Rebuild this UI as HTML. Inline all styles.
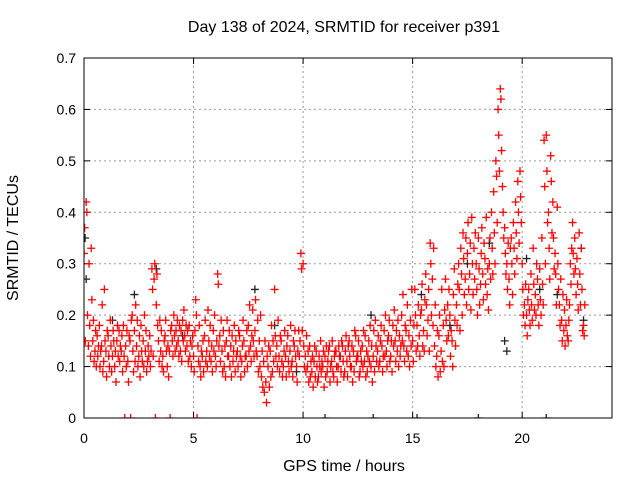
<!DOCTYPE html>
<html><head><meta charset="utf-8"><style>
body{margin:0;background:#fff}
svg text{font-family:"Liberation Sans",sans-serif;font-size:14px;fill:#000}
svg text.big{font-size:16px}
</style></head><body>
<svg id="chart" width="640" height="480" xmlns="http://www.w3.org/2000/svg">
<rect width="640" height="480" fill="#fff"/>
<text class="big" x="344" y="32" text-anchor="middle">Day 138 of 2024, SRMTID for receiver p391</text>
<text class="big" x="344" y="471" text-anchor="middle">GPS time / hours</text>
<text class="big" transform="translate(18,238) rotate(-90)" text-anchor="middle">SRMTID / TECUs</text>
<g id="grid"></g>
<g id="ticks"></g>
<defs><clipPath id="pc"><rect x="84" y="58" width="528" height="360"/></clipPath></defs>
<g id="marks" clip-path="url(#pc)"></g>
<rect x="84" y="58" width="528" height="360" fill="none" stroke="#000" stroke-width="1"/>
</svg>
<script>
const xTicks=[0,5,10,15,20];
const yTicks=[0,0.1,0.2,0.3,0.4,0.5,0.6,0.7];
const yTickLabels=["0","0.1","0.2","0.3","0.4","0.5","0.6","0.7"];
const redT=[0.0,0.1,0.2,0.3,0.4,0.5,0.6,0.7,0.8,0.9,1.0,1.1,1.2,1.3,1.4,1.5,1.6,1.7,1.8,1.9,2.0,2.1,2.2,2.3,2.4,2.5,2.6,2.7,2.8,2.9,3.0,3.1,3.2,3.3,3.4,3.5,3.6,3.7,3.8,3.9,4.0,4.1,4.2,4.3,4.4,4.5,4.6,4.7,4.8,4.9,5.0,5.1,5.2,5.3,5.4,5.5,5.6,5.7,5.8,5.9,6.0,6.1,6.2,6.3,6.4,6.5,6.6,6.7,6.8,6.9,7.0,7.1,7.2,7.3,7.4,7.5,7.6,7.7,7.8,7.9,8.0,8.1,8.2,8.3,8.4,8.5,8.6,8.7,8.8,8.9,9.0,9.1,9.2,9.3,9.4,9.5,9.6,9.7,9.8,9.9,10.0,10.1,10.2,10.3,10.4,10.5,10.6,10.7,10.8,10.9,11.0,11.1,11.2,11.3,11.4,11.5,11.6,11.7,11.8,11.9,12.0,12.1,12.2,12.3,12.4,12.5,12.6,12.7,12.8,12.9,13.0,13.1,13.2,13.3,13.4,13.5,13.6,13.7,13.8,13.9,14.0,14.1,14.2,14.3,14.4,14.5,14.6,14.7,14.8,14.9,15.0,15.1,15.2,15.3,15.4,15.5,15.6,15.7,15.8,15.9,16.0,16.1,16.2,16.3,16.4,16.5,16.6,16.7,16.8,16.9,17.0,17.1,17.2,17.3,17.4,17.5,17.6,17.7,17.8,17.9,18.0,18.1,18.2,18.3,18.4,18.5,18.6,18.7,18.8,18.9,19.0,19.1,19.2,19.3,19.4,19.5,19.6,19.7,19.8,19.9,20.0,20.1,20.2,20.3,20.4,20.5,20.6,20.7,20.8,20.9,21.0,21.1,21.2,21.3,21.4,21.5,21.6,21.7,21.8,21.9,22.0,22.1,22.2,22.3,22.4,22.5,22.6,22.7,22.8];
const redA=[.32,.42,.14,.12,.15,.13,.16,.18,.14,.11,.13,.16,.19,.12,.10,.15,.17,.13,.18,.14,.11,.15,.20,.17,.14,.12,.18,.15,.13,.11,.16,.29,.27,.22,.15,.13,.12,.16,.10,.13,.18,.20,.17,.15,.13,.19,.16,.14,.18,.10,.12,.23,.14,.10,.12,.16,.13,.15,.11,.17,.12,.28,.16,.13,.10,.15,.12,.14,.11,.09,.13,.16,.11,.15,.12,.18,.14,.21,.17,.12,.15,.08,.11,.07,.10,.13,.09,.25,.14,.12,.15,.10,.12,.16,.13,.11,.14,.10,.17,.32,.30,.12,.10,.14,.09,.11,.13,.08,.15,.10,.12,.09,.14,.11,.08,.13,.10,.12,.14,.09,.11,.15,.10,.13,.16,.12,.09,.14,.11,.13,.15,.10,.12,.19,.13,.11,.14,.17,.13,.16,.12,.18,.15,.13,.16,.20,.14,.17,.12,.19,.15,.25,.18,.16,.21,.17,.28,.19,.34,.27,.14,.12,.16,.13,.18,.27,.22,.20,.15,.29,.22,.30,.33,.36,.27,.32,.28,.39,.33,.30,.35,.26,.28,.31,.24,.30,.40,.44,.50,.60,.64,.45,.37,.30,.27,.35,.38,.42,.46,.48,.30,.22,.20,.25,.28,.33,.24,.27,.29,.35,.54,.55,.40,.51,.42,.32,.41,.22,.19,.17,.18,.15,.30,.38,.35,.31,.36,.33,.18];
const redB=[.37,.40,.30,.33,.19,.17,.12,.10,.22,.25,.08,.12,.14,.17,.13,.18,.11,.16,.12,.10,.07,0,.13,.11,.19,.16,.13,.10,.17,.14,.10,.25,.30,.28,.11,.17,.09,.19,.14,0,.15,.16,.14,.12,.17,.15,.13,.17,.12,.14,.09,.20,.11,.08,.15,.19,.10,.12,.14,.13,.10,.26,.11,.09,.14,.19,.17,.08,.13,.15,.10,.12,.14,.09,.17,.13,.11,.15,.23,.19,.10,.13,.05,.03,.14,.08,.15,.16,.10,.09,.11,.13,.08,.11,.18,.08,.17,.07,.12,.29,.14,.09,.13,.08,.12,.14,.10,.12,.09,.13,.08,.11,.07,.15,.12,.10,.14,.09,.11,.13,.08,.12,.14,.09,.11,.15,.13,.10,.16,.09,.11,.14,.17,.14,.16,.15,.09,.12,.10,.19,.15,.14,.11,.19,.12,.15,.11,.13,.16,.14,.11,.20,.14,.12,.26,.13,.22,.25,.30,.18,.22,.17,.20,.25,.10,.19,.16,.12,.10,.19,.18,.25,.28,.31,.35,.38,.34,.30,.27,.25,.29,.32,.23,.26,.29,.35,.33,.36,.47,.55,.62,.40,.32,.25,.22,.30,.33,.36,.40,.43,.25,.18,.16,.21,.22,.26,.20,.22,.23,.26,.45,.48,.33,.46,.35,.28,.30,.18,.15,.21,.23,.19,.26,.32,.29,.26,.28,.25,.16];
const redC=[.15,.20,.18,.23,.11,.10,.14,.13,.09,.15,.17,.10,.09,.15,.07,.12,.14,.09,0,.17,.16,.19,.09,.22,.10,.08,.11,.20,.09,.12,.13,.12,0,.18,.19,.10,.15,.13,.08,.17,.12,.13,.19,.18,.11,.21,.18,.11,.15,.16,.17,0,.18,.13,.09,.11,.21,.18,.09,.20,.15,.14,.19,.17,.08,.12,.10,.16,.18,.12,.17,.08,.19,.12,.10,.22,.16,.12,.13,.09,.20,.06,.15,.12,.06,.18,.11,.12,.19,.16,.08,.17,.14,.09,.10,.15,.12,.13,.15,.17,.10,.16,.07,.11,.06,.08,.07,.10,.11,.06,.14,.13,.10,.09,.13,.07,.12,.15,.08,.16,.14,.10,.07,.17,.12,.08,.11,.17,.08,.12,.18,.07,.09,.11,.10,.18,.12,.20,.15,.11,.09,.21,.17,.10,.14,.24,.18,.22,.10,.25,.18,.13,.22,.20,.14,.23,.16,.13,.20,.33,.10,.08,.09,.11,.21,.15,.25,.17,.24,.14,.26,.17,.20,.24,.22,.25,.21,.24,.36,.20,.22,.37,.34,.39,.21,.27,.28,.30,.38,.48,.52,.35,.28,.34,.33,.24,.28,.31,.34,.38,.20,.26,.23,.18,.19,.21,.30,.18,.20,.22,.30,.38,.27,.36,.29,.22,.25,.27,.24,.14,.16,.22,.33,.28,.24,.21,.22,.17,.22];
const blackT=[0.05,0.1,1.3,2.3,3.3,4.5,7.8,8.7,9.7,11.0,13.1,13.2,15.2,15.4,16.7,17.5,18.0,18.5,19.2,19.3,20.2,20.8,21.1,21.6,22.7,22.8];
const blackV=[.35,.27,.19,.24,.29,.16,.25,.18,.09,0,.20,0,0,.24,.18,.30,0,.34,.15,.13,.31,.25,0,.24,.33,.19];
const NS="http://www.w3.org/2000/svg";
const X0=84,X1=612,Y0=418,Y1=58,XMAX=24.1,YMAX=0.7;
function sx(t){return X0+t/XMAX*(X1-X0);}
function sy(v){return Y0-v/YMAX*(Y0-Y1);}
const grid=document.getElementById('grid'),ticks=document.getElementById('ticks'),marks=document.getElementById('marks');
function mk(tag,attrs,parent){const e=document.createElementNS(NS,tag);for(const k in attrs)e.setAttribute(k,attrs[k]);parent.appendChild(e);return e;}
xTicks.forEach(t=>{
  const x=sx(t);
  if(t>0){const g=mk('line',{x1:x,x2:x,y1:Y0,y2:Y1,stroke:'#999','stroke-dasharray':'2,3'},grid);
  
  }
  const a=mk('line',{x1:x,x2:x,y1:Y0,y2:Y0-6,stroke:'#000'},ticks);
  
  
  const b=mk('line',{x1:x,x2:x,y1:Y1,y2:Y1+6,stroke:'#000'},ticks);
  
  
  const l=mk('text',{x:x,y:443,'text-anchor':'middle'},ticks);l.textContent=String(t);
  
  
});
yTicks.forEach((v,i)=>{
  const y=sy(v);
  if(v>0&&v<YMAX){const g=mk('line',{x1:X0,x2:X1,y1:y,y2:y,stroke:'#999','stroke-dasharray':'2,3'},grid);
  
  }
  const a=mk('line',{x1:X0,x2:X0+6,y1:y,y2:y,stroke:'#000'},ticks);
  
  
  const b=mk('line',{x1:X1,x2:X1-6,y1:y,y2:y,stroke:'#000'},ticks);
  
  
  const l=mk('text',{x:X0-8,y:y+5,'text-anchor':'end'},ticks);l.textContent=yTickLabels[i];
  
  
});
function plus(t,v,color,name){
  const x=sx(t),y=sy(v);
  const p=mk('path',{d:`M${x-4},${y}h8M${x},${y-4}v8`,stroke:color,'stroke-width':1.3,fill:'none'},marks);
  
  
}
blackT.forEach((t,i)=>plus(t,blackV[i],'#222','black-point'));
redT.forEach((t,i)=>{
  plus(t,redA[i],'#ff0000','red-point');
  plus(t+0.03,redB[i],'#ff0000','red-point');
  plus(t+0.06,redC[i],'#ff0000','red-point');
});
</script>
</body></html>
